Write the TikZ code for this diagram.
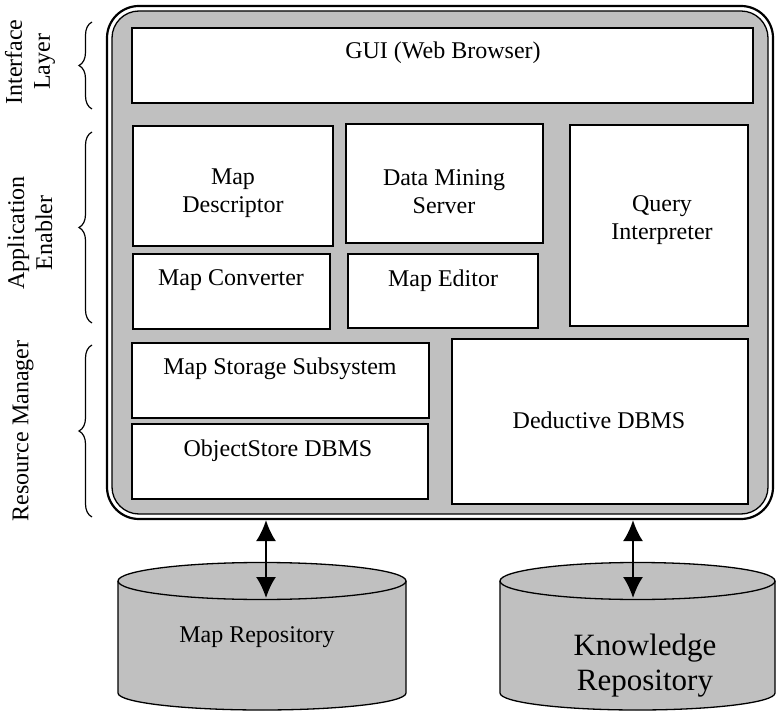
\documentclass[tikz,border=0pt]{standalone}
\usepackage{fontspec}
\setmainfont{Liberation Serif}
\usepackage{tikz}
\usetikzlibrary{arrows.meta,decorations.pathreplacing,positioning}
\definecolor{panelgray}{RGB}{192,192,192}
\tikzset{
	block/.style={draw,fill=white,line width=1.8pt,inner sep=0pt},
	lbl/.style={font=\fontsize{24}{28}\selectfont,align=center,inner sep=0pt},
	layerbrace/.style={decorate,decoration={brace,amplitude=13pt},line width=1.2pt},
	dbarrow/.style={{Latex[length=21pt,width=20pt]}-{Latex[length=21pt,width=20pt]},line width=2pt}
}

\begin{document}
\begin{tikzpicture}[x=1pt,y=-1pt]
	\useasboundingbox (0,0) rectangle (782,711);
	% system frame
	\node[draw,line width=2.2pt,rounded corners=32pt,minimum width=666pt,minimum height=513pt] (system) at (440,262.5) {};
	\node[draw,line width=1.3pt,fill=panelgray,rounded corners=27pt,minimum width=656pt,minimum height=503pt] (panel) at (440,262.5) {};
	% blocks
	\node[block,minimum width=621pt,minimum height=75pt] (gui) at (442.5,65.5) {};
	\node[block,minimum width=200pt,minimum height=120pt] (mapdesc) at (233,186) {};
	\node[block,minimum width=197pt,minimum height=119pt] (mining) at (444.5,183.5) {};
	\node[block,minimum width=178pt,minimum height=201pt] (query) at (659,225.5) {};
	\node[block,minimum width=197pt,minimum height=75pt] (mapconv) at (231.5,291.5) {};
	\node[block,minimum width=190pt,minimum height=74pt] (mapedit) at (443,291) {};
	\node[block,minimum width=297pt,minimum height=75pt] (mapstore) at (280.5,380.5) {};
	\node[block,minimum width=296pt,minimum height=75pt] (objstore) at (280,461.5) {};
	\node[block,minimum width=296pt,minimum height=165pt] (deductive) at (600,421.5) {};
	\node[lbl] (guitext) at (443,53) {GUI (Web Browser)};
	\node[lbl] (mapdesctext) at (233,193.5) {Map\\Descriptor};
	\node[lbl] (miningtext) at (444,191.5) {Data Mining\\Server};
	\node[lbl] (querytext) at (662,220) {Query\\Interpreter};
	\node[lbl] (mapconvtext) at (231,280) {Map Converter};
	\node[lbl] (mapedittext) at (443,281) {Map Editor};
	\node[lbl] (mapstoretext) at (280,369) {Map Storage Subsystem};
	\node[lbl] (objstoretext) at (278,451) {ObjectStore DBMS};
	\node[lbl] (deductivetext) at (599,420) {Deductive DBMS};
	% layers
	\node[lbl,rotate=90] (iface) at (30,62) {Interface\\Layer};
	\node[lbl,rotate=90] (appl) at (30,233) {Application\\Enabler};
	\node[lbl,rotate=90] (resmgr) at (23,431) {Resource Manager};
	\draw[layerbrace] (92,109) -- (92,22);
	\draw[layerbrace] (92,323) -- (92,132);
	\draw[layerbrace] (92,517) -- (92,345);
	% repositories
	\draw[line width=1.3pt,fill=panelgray] (118,581) -- (118,693) arc[start angle=180,end angle=0,x radius=144,y radius=17] -- (406,581);
	\draw[line width=1.3pt,fill=panelgray] (262,581) ellipse [x radius=144,y radius=18.5];
	\draw[line width=1.3pt,fill=panelgray] (500,581) -- (500,693) arc[start angle=180,end angle=0,x radius=137.5,y radius=17] -- (775,581);
	\draw[line width=1.3pt,fill=panelgray] (637.5,581) ellipse [x radius=137.5,y radius=18.5];
	\node[lbl] (maprepo) at (257,637) {Map Repository};
	\node[lbl,font=\fontsize{31}{35}\selectfont] (knowrepo) at (645,665.5) {Knowledge\\Repository};
	\coordinate (mapdb) at (266,598);
	\coordinate (knowdb) at (633,598);
	\draw[dbarrow] (system.south -| mapdb) -- (mapdb);
	\draw[dbarrow] (system.south -| knowdb) -- (knowdb);
\end{tikzpicture}
\end{document}
